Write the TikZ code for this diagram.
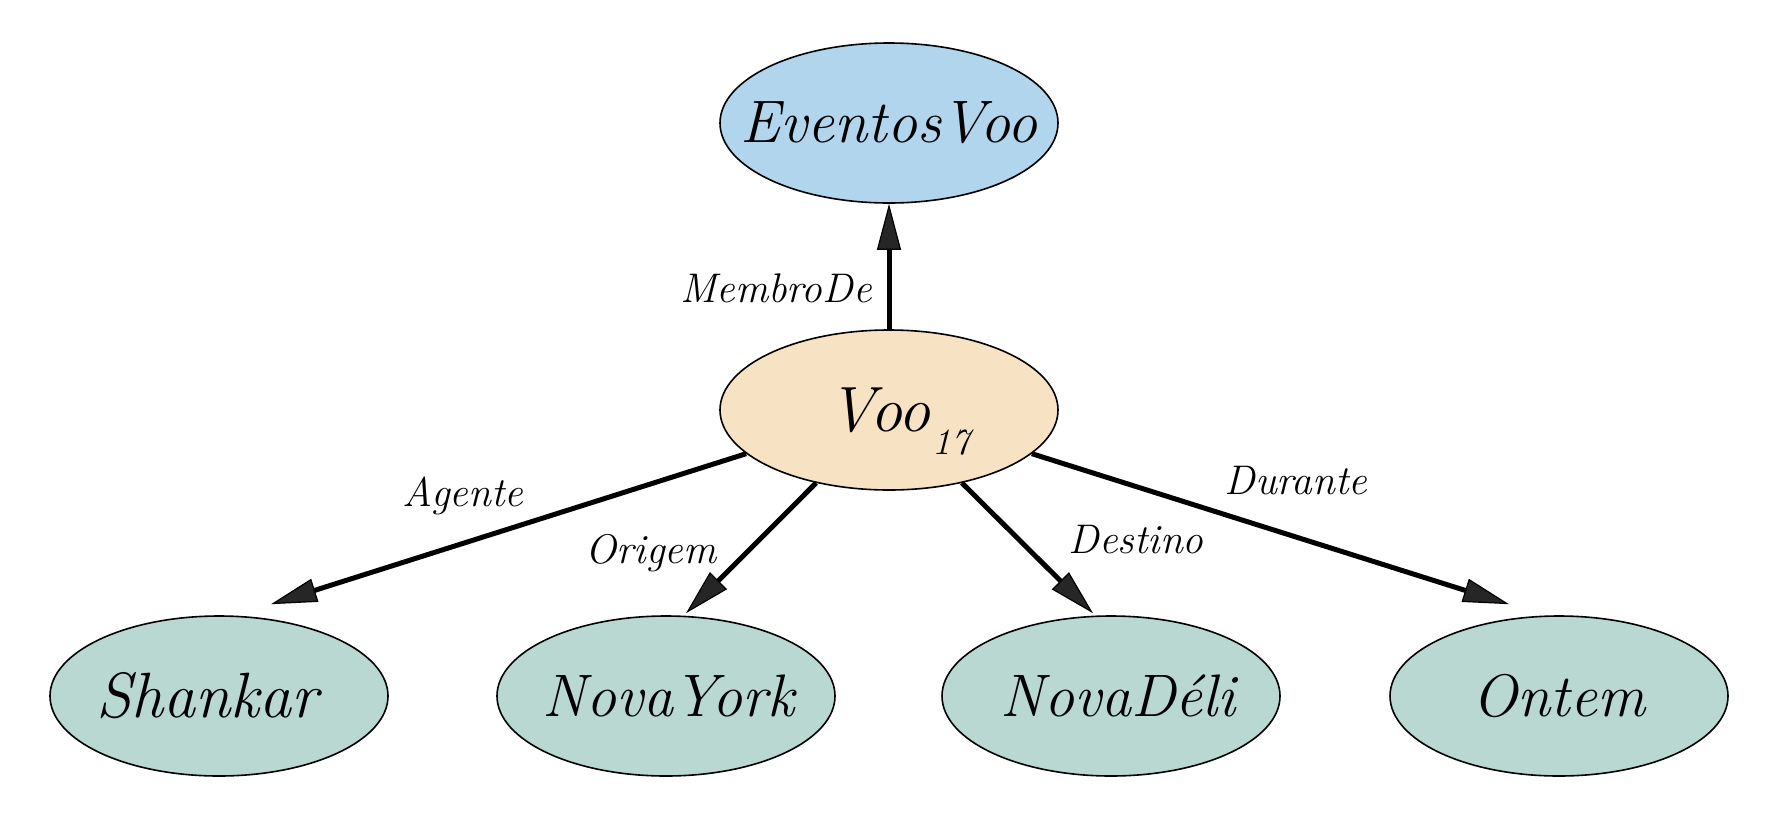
\documentclass[tikz,border=0pt]{standalone}
\usetikzlibrary{shapes.geometric,arrows.meta}
\definecolor{evblue}{HTML}{B0D5EC}
\definecolor{vooorange}{HTML}{F7E3C4}
\definecolor{leafgreen}{HTML}{B9D8D1}
\definecolor{tipgray}{HTML}{262626}
\begin{document}
\begin{tikzpicture}[x=0.5pt,y=-0.5pt,
  ell/.style={ellipse, draw=black, line width=0.8pt, minimum width=169pt, minimum height=80pt, inner sep=0pt, font=\fontsize{30}{36}\selectfont\itshape},
  lbl/.style={font=\fontsize{20.7}{24}\selectfont\itshape, inner sep=0pt, anchor=base},
  edge/.style={line width=2.5pt, draw=black, -{Triangle[length=23pt,width=12pt,line width=0.6pt,fill=tipgray]}}
]
\useasboundingbox[fill=white] (0,0) rectangle (1772,820);

\node[ell, fill=evblue] (ev) at (889,123) {\makebox[0pt]{EventosVoo}};
\node[ell, fill=vooorange] (voo) at (889,410) {\makebox[0pt]{\hspace{10pt}{\fontsize{32}{36}\selectfont Voo}\hspace{1pt}\raisebox{-11.5pt}[0pt][0pt]{\fontsize{18.5}{22}\selectfont 17}}};
\node[ell, fill=leafgreen] (sh) at (219,696) {\makebox[0pt]{\hspace{-12pt}{\fontsize{32}{36}\selectfont Shankar}}};
\node[ell, fill=leafgreen] (ny) at (666,696) {\makebox[0pt]{\hspace{2.5pt}NovaYork}};
\node[ell, fill=leafgreen] (nd) at (1111,696) {\makebox[0pt]{\hspace{7pt}NovaDéli}};
\node[ell, fill=leafgreen] (on) at (1559,696) {\makebox[0pt]{\hspace{0pt}Ontem}};

\coordinate (tA) at ([shift={(52,-11)}]sh.north);
\coordinate (tO) at ([shift={(20,-2)}]ny.north);
\coordinate (tD) at ([shift={(-18,-2)}]nd.north);
\coordinate (tU) at ([shift={(-50,-11)}]on.north);

\draw[edge] (voo.north) -- (ev.south);
\draw[edge] (voo.197.5) -- (tA);
\draw[edge] (voo.225.4) -- (tO);
\draw[edge] (voo.-45.8) -- (tD);
\draw[edge] (voo.-17.6) -- (tU);

\node[lbl] (lm) at (776,302) {MembroDe};
\node[lbl] (la) at (463,506) {Agente};
\node[lbl] (lo) at (651,563) {Origem};
\node[lbl] (ld) at (1136,553) {Destino};
\node[lbl] (lu) at (1296,494) {Durante};
\end{tikzpicture}
\end{document}
